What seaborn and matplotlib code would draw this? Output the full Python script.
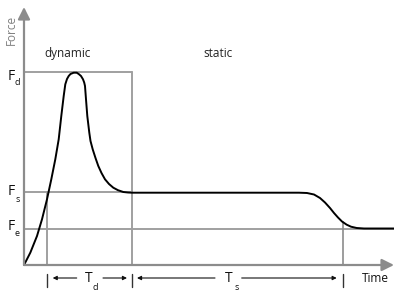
import numpy as np
import pandas as pd
import matplotlib
matplotlib.use("Agg")
import matplotlib.pyplot as plt
import seaborn as sns

# force curve (time, force in arbitrary units)
time = [0, 6.3, 13, 18, 23, 27.3, 31.3, 34.7, 37.3, 39.7, 41.3, 43, 44.7, 46.5, 49.7,
        52.7, 54.7, 57, 59, 60.2, 61, 62, 63.3, 65.3, 66.5, 68.7, 71.5, 74.3, 77.5, 81,
        85, 89.3, 94, 99.3, 104, 108, 275, 283, 290, 296, 301, 306, 310, 314, 318,
        322.7, 327, 332.7, 340, 370]
force = [0, 12.3, 29, 45.7, 65.7, 85.7, 105.7, 125.7, 149, 169, 180.7, 186, 189, 191, 192.3,
         192.3, 191, 189, 185.7, 182.5, 179, 165.7, 149, 132.3, 124, 115.7, 107, 99, 92, 85.7,
         81, 77.3, 74.8, 73, 72.5, 72.3, 72.3, 72, 70.5, 67, 62.5, 57, 52, 47.5, 43.5,
         40.3, 38.3, 37, 36.5, 36.5]

# reference levels and phase boundaries
F_d, F_s, F_e = 193, 73, 36.5
t_start, t_dyn_end, t_stat_end = 23, 108, 319
level_names = ["d", "s", "e"]
level_label_y = [189, 73.5, 39]
level_sub_y = [182.5, 66, 31]

sns.set_style("white")
plt.rcParams["font.family"] = ["Open Sans", "DejaVu Sans"]

fig = plt.figure(figsize=(3.94, 2.91), dpi=100)
ax = fig.add_axes([0, 0, 1, 1])
ax.set_xlim(-24, 370)
ax.set_ylim(-26, 265)
ax.axis("off")

grey = "#a0a0a0"
axis_grey = "#8c8c8c"

# reference lines
ax.plot([0, t_dyn_end], [F_d, F_d], color=grey, lw=1.4)
ax.plot([0, t_dyn_end], [F_s, F_s], color=grey, lw=1.4)
ax.plot([0, 370], [F_e, F_e], color=grey, lw=1.4)
ax.plot([t_start, t_start], [0, F_s], color=grey, lw=1.4)
ax.plot([t_dyn_end, t_dyn_end], [0, F_d], color=grey, lw=1.4)
ax.plot([t_stat_end, t_stat_end], [0, 43], color=axis_grey, lw=1.2)

# axes with arrow heads
arrow_kw = dict(arrowstyle="-|>", color=axis_grey, lw=1.6, mutation_scale=18,
                shrinkA=0, shrinkB=0)
ax.annotate("", xy=(0, 258), xytext=(0, 0), arrowprops=arrow_kw)
ax.annotate("", xy=(370, 0), xytext=(0, 0), arrowprops=arrow_kw)

df = pd.DataFrame({"time": time, "force": force})
sns.lineplot(data=df, x="time", y="force", sort=False, estimator=None,
             color="black", lw=1.4, ax=ax)

ax.text(-12.3, 235, "Force", rotation=90, color="#808080", fontsize=8.5,
        ha="center", va="center")
ax.text(43.5, 211, "dynamic", color="#222222", fontsize=8.5, ha="center", va="center")
ax.text(194, 211.5, "static", color="#222222", fontsize=8.5, ha="center", va="center")

for ly, sy, name in zip(level_label_y, level_sub_y, level_names):
    ax.text(-12.5, ly, "F", fontsize=10, color="#111111", ha="center", va="center")
    ax.text(-6.5, sy, name, fontsize=6.5, color="#111111", ha="center", va="center")

# phase duration markers
bar_y = (-22, -9)
for tb in [t_start, t_dyn_end, t_stat_end]:
    ax.plot([tb, tb], bar_y, color="#333333", lw=1.0)

dim_kw = dict(arrowstyle="-|>", color="#111111", lw=0.8, mutation_scale=6,
              shrinkA=0, shrinkB=0)
ax.annotate("", xy=(28.7, -13), xytext=(52.7, -13), arrowprops=dim_kw)
ax.annotate("", xy=(103, -13), xytext=(79, -13), arrowprops=dim_kw)
ax.annotate("", xy=(113, -13), xytext=(191, -13), arrowprops=dim_kw)
ax.annotate("", xy=(312.7, -13), xytext=(217.7, -13), arrowprops=dim_kw)

ax.text(65, -14, "T", fontsize=10, color="#111111", ha="center", va="center")
ax.text(71.5, -22.5, "d", fontsize=6.5, color="#111111", ha="center", va="center")
ax.text(204.5, -14, "T", fontsize=10, color="#111111", ha="center", va="center")
ax.text(212.5, -23, "s", fontsize=6.5, color="#111111", ha="center", va="center")
ax.text(351, -13, "Time", fontsize=8.5, color="#111111", ha="center", va="center")

fig.savefig("out.png", dpi=100)
